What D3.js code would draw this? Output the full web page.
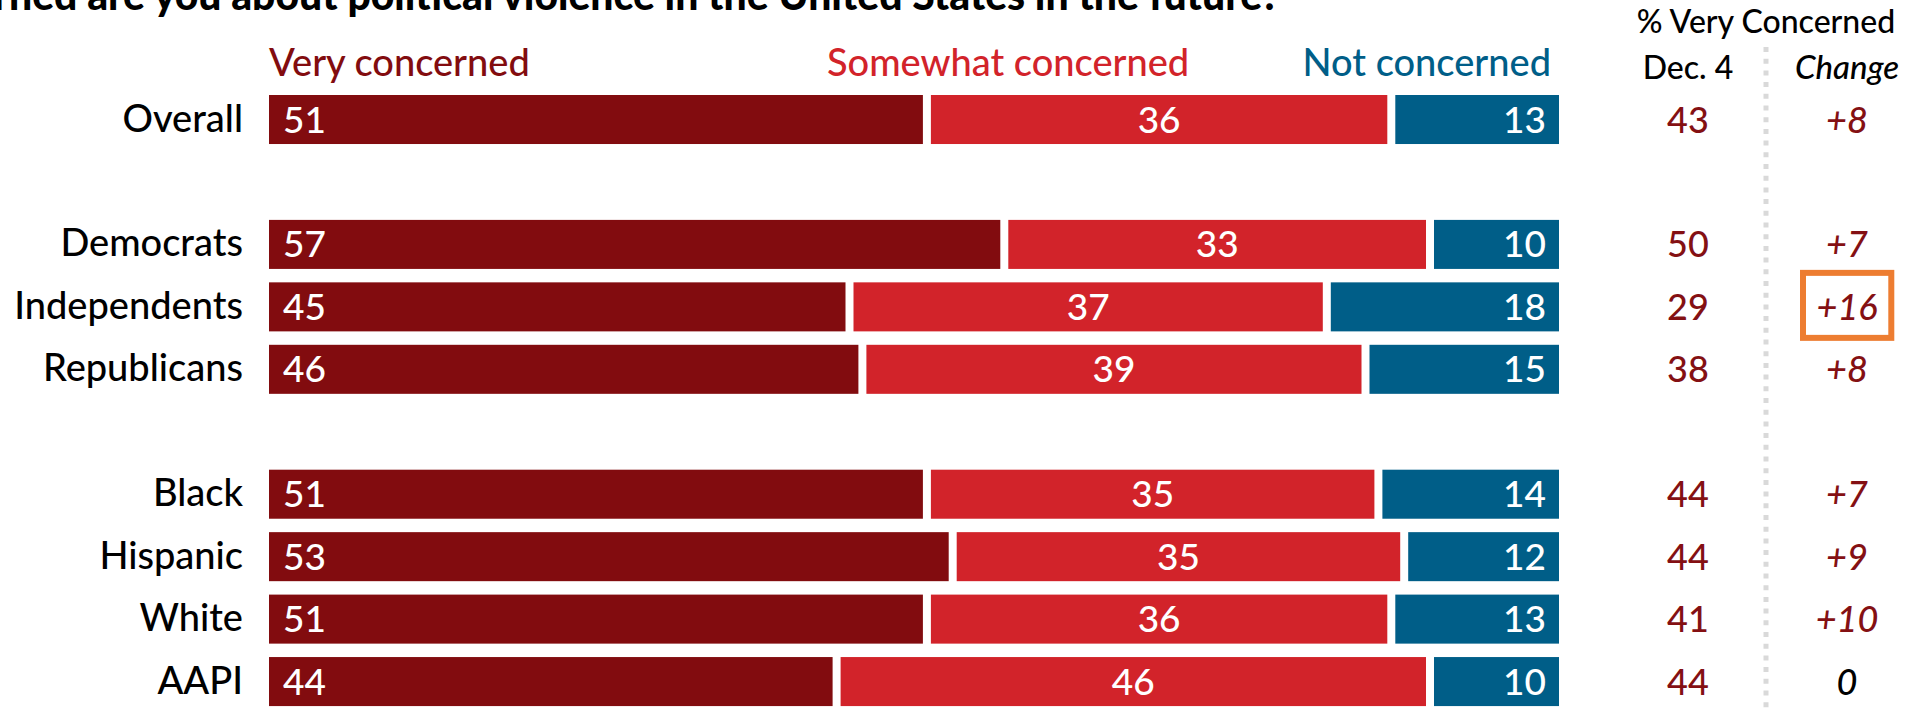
<!DOCTYPE html>
<html>
<head>
<meta charset="utf-8">
<script src="https://cdn.jsdelivr.net/npm/d3@7"></script>
<style>
  html, body { margin: 0; padding: 0; background: #fff; }
  svg { display: block; font-family: Lato, "Noto Sans", sans-serif; }
</style>
</head>
<body>
<svg id="chart" width="1918" height="709"></svg>
<script>
// ---- data ----
const title = "How concerned are you about political violence in the United States in the future?";
const categories = ["Overall", "Democrats", "Independents", "Republicans", "Black", "Hispanic", "White", "AAPI"];
const rowKeys = ["Overall", "gap1", "Democrats", "Independents", "Republicans", "gap2", "Black", "Hispanic", "White", "AAPI"];
const seriesNames = ["Very concerned", "Somewhat concerned", "Not concerned"];
const veryConcerned = [51, 57, 45, 46, 51, 53, 51, 44];
const somewhatConcerned = [36, 33, 37, 39, 35, 35, 36, 46];
const notConcerned = [13, 10, 18, 15, 14, 12, 13, 10];
const dec4Very = [43, 50, 29, 38, 44, 44, 41, 44];
const changeLabels = ["+8", "+7", "+16", "+8", "+7", "+9", "+10", "0"];
const sideHeader = "% Very Concerned";
const sideColumns = ["Dec. 4", "Change"];
const highlightedRow = "Independents";

// ---- styles ----
const colors = ["#820c0f", "#d2232a", "#005e88"];
const darkRed = "#841013";
const W = 1918, H = 709;
const FW = 500;

const svg = d3.select("#chart");

const rows = categories.map((c, i) => ({
  cat: c,
  "Very concerned": veryConcerned[i],
  "Somewhat concerned": somewhatConcerned[i],
  "Not concerned": notConcerned[i],
  dec: dec4Very[i],
  change: changeLabels[i]
}));

const x = d3.scaleLinear().domain([0, 100]).range([269, 1559]);
const step = 62.45;
const y = d3.scaleBand().domain(rowKeys)
  .range([95, 95 + step * (rowKeys.length - 0.215)])
  .paddingInner(0.215).paddingOuter(0).align(0);
const bh = y.bandwidth();
const cy = d => y(d.cat) + bh / 2;

// title (clipped at the left edge, as in the source)
svg.append("text")
  .attr("x", 1280).attr("y", 10)
  .attr("text-anchor", "end")
  .attr("font-size", 40.9).attr("font-weight", 900)
  .attr("fill", "#000")
  .text(title);

// series headers
const headerX = [
  { name: seriesNames[0], x: x(0), anchor: "start" },
  { name: seriesNames[1], x: 827, anchor: "start" },
  { name: seriesNames[2], x: x(100) - 8, anchor: "end" }
];
svg.selectAll(".sh").data(headerX).join("text")
  .attr("class", "sh")
  .attr("x", d => d.x).attr("y", 76)
  .attr("text-anchor", d => d.anchor)
  .attr("font-size", 38).attr("font-weight", FW)
  .attr("fill", (d, i) => colors[i])
  .text(d => d.name);

// stacked bars
const stack = d3.stack().keys(seriesNames);
const series = stack(rows);
const gap = 4;
const gSeries = svg.append("g").selectAll("g").data(series).join("g")
  .attr("fill", (d, i) => colors[i]);

gSeries.each(function(s, si) {
  const g = d3.select(this);
  g.selectAll("rect").data(s).join("rect")
    .attr("x", d => x(d[0]) + (si > 0 ? gap : 0))
    .attr("width", d => x(d[1]) - x(d[0]) - (si > 0 ? gap : 0) - (si < 2 ? gap : 0))
    .attr("y", d => y(d.data.cat))
    .attr("height", bh);
  g.selectAll("text").data(s).join("text")
    .attr("x", d => si === 0 ? x(d[0]) + 14 : si === 1 ? (x(d[0]) + x(d[1])) / 2 : x(d[1]) - 13)
    .attr("y", d => y(d.data.cat) + bh / 2 + 13)
    .attr("text-anchor", si === 0 ? "start" : si === 1 ? "middle" : "end")
    .attr("font-size", 37).attr("font-weight", FW)
    .attr("fill", "#fff")
    .text(d => d.data[seriesNames[si]]);
});

// category labels
svg.append("g").selectAll("text").data(rows).join("text")
  .attr("x", 243).attr("y", d => cy(d) + 12)
  .attr("text-anchor", "end")
  .attr("font-size", 38).attr("font-weight", FW)
  .attr("fill", "#000")
  .text(d => d.cat);

// right-side table
const decX = 1688, chgX = 1847, divX = 1766;
svg.append("text")
  .attr("x", divX).attr("y", 33)
  .attr("text-anchor", "middle").attr("font-size", 32).attr("font-weight", FW).attr("fill", "#000")
  .text(sideHeader);
svg.append("text")
  .attr("x", decX).attr("y", 79)
  .attr("text-anchor", "middle").attr("font-size", 32).attr("font-weight", FW).attr("fill", "#000")
  .text(sideColumns[0]);
svg.append("text")
  .attr("x", chgX).attr("y", 79)
  .attr("text-anchor", "middle").attr("font-size", 33).attr("font-weight", FW)
  .attr("font-style", "italic").attr("fill", "#000")
  .text(sideColumns[1]);

svg.append("line")
  .attr("x1", divX).attr("x2", divX).attr("y1", 47).attr("y2", H)
  .attr("stroke", "#d9d9d9").attr("stroke-width", 5)
  .attr("stroke-dasharray", "5,6.7");

svg.append("g").selectAll("text").data(rows).join("text")
  .attr("x", decX).attr("y", d => cy(d) + 13)
  .attr("text-anchor", "middle").attr("font-size", 36).attr("font-weight", FW).attr("fill", darkRed)
  .text(d => d.dec);

svg.append("g").selectAll("text").data(rows).join("text")
  .attr("x", chgX).attr("y", d => cy(d) + 13)
  .attr("text-anchor", "middle").attr("font-size", 36).attr("font-weight", FW).attr("font-style", "italic")
  .attr("fill", d => d.change === "0" ? "#000" : darkRed)
  .text(d => d.change);

// highlight box
const hr = rows.find(r => r.cat === highlightedRow);
svg.append("rect")
  .attr("x", 1803).attr("width", 88.3)
  .attr("y", cy(hr) - 34).attr("height", 65)
  .attr("fill", "none").attr("stroke", "#ed7d31").attr("stroke-width", 6);
</script>
</body>
</html>
